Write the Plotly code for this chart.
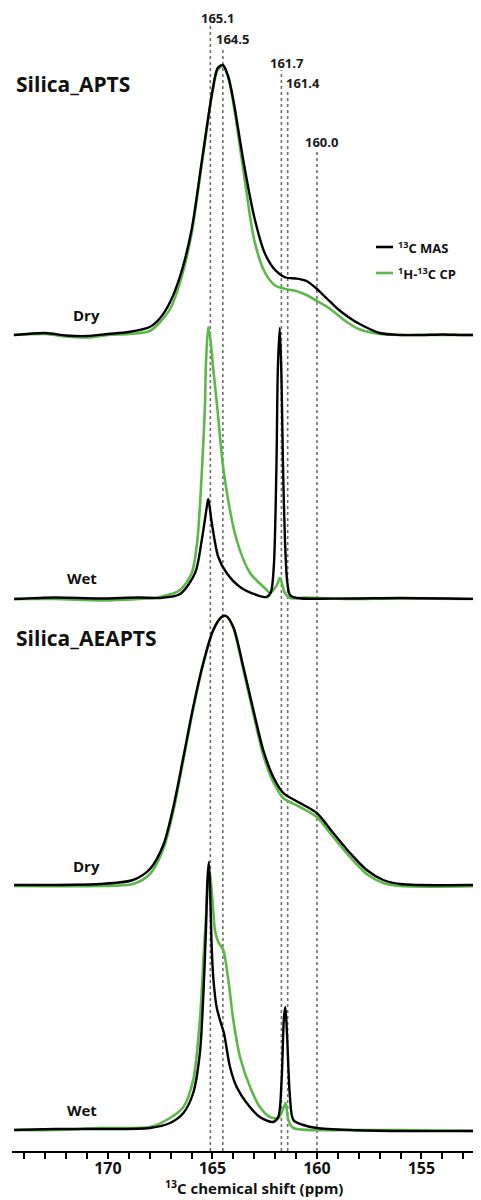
import plotly.graph_objects as go

# ---------------- data ----------------
# chemical shift (ppm) and intensity (arbitrary units, baseline = 0)
apts_dry_ppm = [174.5, 173, 172, 171, 170, 169, 168, 167.5, 167, 166.5, 166, 165.5, 165,
                164.75, 164.5, 164.25, 164, 163.5, 163, 162.5, 162, 161.5, 161, 160.5, 160,
                159.5, 159, 158.5, 158, 157, 156, 155, 154, 153, 152.2]
apts_dry_mas = [0, 2, -0.5, -1, 1, 3, 8, 17, 34, 62, 105, 175, 244,
                267, 270, 259, 235, 172, 118, 82, 65, 57.5, 56.5, 54, 46,
                36, 26, 18, 11.5, 2, 0, 0, 0.5, 0, 0]
apts_dry_cp = [0, 1, -1.5, -2.5, 0, 1, 4, 13, 27, 56, 101, 172, 243,
               265, 269, 258, 232, 162, 95, 63, 49.5, 46, 44, 40, 34,
               28, 20, 12, 6, 1, 0, 0, 0, 0, 0]

apts_wet_mas_ppm = [174.49, 172.5, 170.38, 168.5, 167.51, 166.55, 165.83, 165.51, 165.27, 165.20,
                    165.03, 164.72, 164.32, 163.68, 162.88, 162.40, 162.20, 162.06, 161.94,
                    161.87, 161.78, 161.70, 161.63, 161.53, 161.43, 161.29, 160.97, 158.5,
                    156, 152.15]
apts_wet_mas = [0, 1.5, 0.5, 1.5, 1, 5, 26, 59, 92, 100,
                76, 42, 26, 12, 4, 2, 7, 34, 130,
                230, 271, 225, 140, 59, 19, 4, 1, 0.5,
                1, 0]
apts_wet_cp_ppm = [174.49, 172.5, 170.38, 168.5, 167.51, 166.55, 165.99, 165.72, 165.51, 165.36,
                   165.31, 165.20, 165.09, 164.97, 164.77, 164.45, 163.84, 163.20, 162.40,
                   162.25, 162.01, 161.89, 161.77, 161.53, 161.29, 160.5, 158.5, 156, 152.15]
apts_wet_cp = [0, 0, -1.5, 0, 2, 9, 26, 59, 126, 192,
               235, 272, 258, 232, 192, 126, 59, 26, 9,
               6, 11, 15, 21, 6, 1, 1.5, 0, 0.5, 0]

aeapts_dry_ppm = [174.49, 170.38, 168.80, 167.99, 167.35, 166.87, 166.39, 165.92, 165.44,
                  164.96, 164.56, 164.35, 164.00, 163.52, 163.04, 162.57, 162.09, 161.61,
                  160.81, 160.01, 159.22, 158.42, 157.62, 156.83, 156.03, 152.15]
aeapts_dry_mas = [0, 1, 5, 16, 40, 78, 128, 178, 222,
                  255, 268, 269, 258, 218, 175, 135, 108, 92,
                  82, 72, 52, 32, 15, 5, 1, 0]
aeapts_dry_cp = [-1, -1, 1, 11, 36, 74, 125, 176, 221,
                 255, 268, 269, 257, 215, 171, 130, 103, 87,
                 78, 68, 48, 28, 11, 2, -1, -1]

aeapts_wet_mas_ppm = [174.49, 172.5, 170.38, 167.99, 167.03, 166.39, 165.92, 165.60, 165.44, 165.31,
                      165.24, 165.17, 165.11, 165.04, 164.95, 164.80, 164.64, 164.45, 164.16,
                      163.84, 163.36, 162.73, 162.09, 161.85, 161.69, 161.58, 161.51, 161.43,
                      161.29, 161.13, 160.65, 160.01, 158.42, 156, 152.15]
aeapts_wet_mas = [0, 1, 1, 2, 7, 17, 37, 77, 133, 200,
                  250, 268, 240, 185, 150, 123, 110, 97, 63,
                  43, 27, 13, 8, 13, 50, 112, 123, 95,
                  33, 10, 5, 2, 0, -1, -1]
aeapts_wet_cp_ppm = [174.49, 172.5, 170.38, 167.99, 167.03, 166.39, 165.92, 165.60, 165.44, 165.28,
                     165.19, 165.12, 165.04, 164.97, 164.88, 164.72, 164.48, 164.24, 164.00,
                     163.68, 163.20, 162.73, 162.25, 161.85, 161.64, 161.50, 161.37, 161.13,
                     158.42, 156, 152.15]
aeapts_wet_cp = [0, 0, 2, 3, 12, 23, 50, 110, 167, 223,
                 250, 257, 240, 222, 200, 188, 180, 150, 110,
                 73, 43, 23, 13, 12, 20, 27, 10, 2,
                 0, 0, -1]

peak_positions = [165.1, 164.5, 161.7, 161.4, 160.0]
tick_values = [170, 165, 160, 155]

series_names = ["<sup>13</sup>C MAS", "<sup>1</sup>H-<sup>13</sup>C CP"]
axis_title = "<sup>13</sup>C chemical shift (ppm)"

# ---------------- layout constants ----------------
# the page body has an 8 px margin, so the figure itself is 8 px smaller
PAGE_PAD = 8
W, H = 481 - PAGE_PAD, 1200 - PAGE_PAD
ML, MB = 12 - PAGE_PAD, 49
PLOT_H = H - MB                      # plot area spans page y 8 .. 1151
AXIS_Y = 1151                        # page y of the x axis line
PLOT_X0, PLOT_X1 = 12, 481           # page x extent of the plot area
X_RANGE = [174.59, 152.15]
BLACK = "#000000"
GREEN = "#5cb84a"
FONT = "Open Sans"

# baseline offsets of the stacked spectra (in page pixel units above the axis)
offsets = {"apts_dry": 816, "apts_wet": 552, "aeapts_dry": 266, "aeapts_wet": 21}

fig = go.Figure()


def add_pair(ppm_cp, cp, ppm_mas, mas, off):
    fig.add_trace(go.Scatter(x=ppm_cp, y=[v + off for v in cp], mode="lines",
                             line=dict(color=GREEN, width=2.6, shape="spline", smoothing=0.8),
                             showlegend=False, hoverinfo="skip"))
    fig.add_trace(go.Scatter(x=ppm_mas, y=[v + off for v in mas], mode="lines",
                             line=dict(color=BLACK, width=2.4, shape="spline", smoothing=0.8),
                             showlegend=False, hoverinfo="skip"))


add_pair(apts_dry_ppm, apts_dry_cp, apts_dry_ppm, apts_dry_mas, offsets["apts_dry"])
add_pair(apts_wet_cp_ppm, apts_wet_cp, apts_wet_mas_ppm, apts_wet_mas, offsets["apts_wet"])
add_pair(aeapts_dry_ppm, aeapts_dry_cp, aeapts_dry_ppm, aeapts_dry_mas, offsets["aeapts_dry"])
add_pair(aeapts_wet_cp_ppm, aeapts_wet_cp, aeapts_wet_mas_ppm, aeapts_wet_mas, offsets["aeapts_wet"])

shapes = []
annotations = []


def px_x(px):
    return (px - PLOT_X0) / (PLOT_X1 - PLOT_X0)


def px_y(py):
    return AXIS_Y - py


# dotted reference lines with labels (page y of line top and label centre)
line_top_px = [25, 47, 70, 90, 150]
label_px = [17.5, 39, 63, 83, 142]
label_dx = [7, 10, 6, 15, 5]
for p, top, ly, dx in zip(peak_positions, line_top_px, label_px, label_dx):
    shapes.append(dict(type="line", xref="x", yref="y", x0=p, x1=p, y0=0, y1=px_y(top),
                       line=dict(color="#6e6e6e", width=1.6, dash="dot"), layer="below"))
    annotations.append(dict(x=p, y=px_y(ly), xref="x", yref="y", text=f"{p:.1f}", showarrow=False,
                            xshift=dx, xanchor="center", yanchor="middle",
                            font=dict(family=FONT, size=13, color="#1a1a1a", weight="bold")))

# sample titles
for txt, py in [("Silica_APTS", 84), ("Silica_AEAPTS", 638)]:
    annotations.append(dict(x=px_x(14), y=px_y(py), xref="paper", yref="y", text=txt,
                            showarrow=False, xanchor="left", yanchor="middle",
                            font=dict(family=FONT, size=21, color="#111111", weight="bold")))
# condition labels
for txt, px, py in [("Dry", 86, 315), ("Wet", 82, 578), ("Dry", 86, 866), ("Wet", 82, 1110)]:
    annotations.append(dict(x=px_x(px), y=px_y(py), xref="paper", yref="y", text=txt,
                            showarrow=False, xanchor="center", yanchor="middle",
                            font=dict(family=FONT, size=15, color="#111111", weight="bold")))

# legend (drawn manually)
for name, col, py in zip(series_names, [BLACK, GREEN], [247, 273]):
    shapes.append(dict(type="line", xref="paper", yref="y", x0=px_x(376), x1=px_x(393),
                       y0=px_y(py), y1=px_y(py), line=dict(color=col, width=2.6)))
    annotations.append(dict(x=px_x(396), y=px_y(py), xref="paper", yref="y", text=name,
                            showarrow=False, xanchor="left", yanchor="middle",
                            font=dict(family=FONT, size=13, color="#111111", weight="bold")))

# x-axis title
annotations.append(dict(x=px_x(254), y=-MB / PLOT_H, xref="paper", yref="paper", text=axis_title,
                        showarrow=False, xanchor="center", yanchor="bottom",
                        font=dict(family=FONT, size=15, color="#111111", weight="bold")))

fig.update_layout(
    width=W, height=H,
    margin=dict(l=ML, r=0, t=0, b=MB),
    paper_bgcolor="white", plot_bgcolor="white",
    shapes=shapes, annotations=annotations, showlegend=False,
    xaxis=dict(range=X_RANGE, showgrid=False, zeroline=False,
               showline=True, linecolor="black", linewidth=2,
               ticks="outside", ticklen=6, tickwidth=2, tickcolor="black",
               ticklabelstandoff=-4,
               tickvals=tick_values, ticktext=[str(v) for v in tick_values],
               tickfont=dict(family=FONT, size=16, color="#111111", weight="bold"),
               minor=dict(dtick=1, tick0=0, ticks="outside", ticklen=6, tickwidth=2,
                          tickcolor="black", showgrid=False)),
    yaxis=dict(range=[0, PLOT_H], visible=False, showgrid=False, zeroline=False),
)

fig.write_html("out.html")
